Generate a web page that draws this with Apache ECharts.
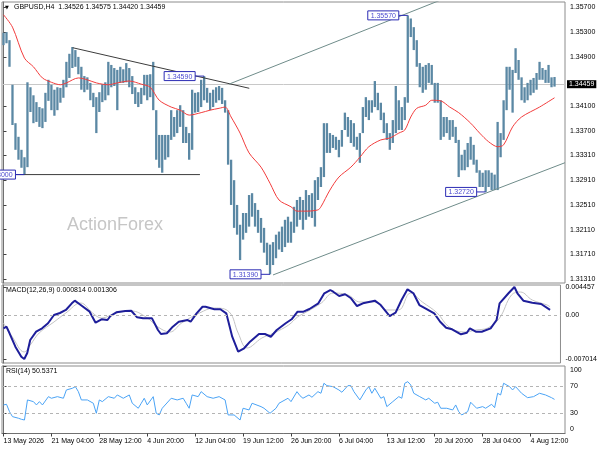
<!DOCTYPE html>
<html><head><meta charset="utf-8">
<script src="https://cdn.jsdelivr.net/npm/echarts/dist/echarts.min.js"></script>
<style>html,body{margin:0;padding:0;background:#fff}#c{width:600px;height:450px}</style>
</head><body><div id="c"></div>
<script>
const FONT = "'Liberation Sans', Arial, sans-serif";
const symbolName = 'GBPUSD,H4';
const lastOHLC = [1.34526, 1.34575, 1.34420, 1.34459];
const currentPrice = 1.34459;

// one bar every 8 hours, high / low
const barHigh = [
1.3529,1.3530,1.3517,1.3445,1.3383,1.3361,1.3340,1.3328,1.3449,1.3441,
1.3428,1.3417,1.3409,1.3407,1.3432,1.3453,1.3445,1.3437,1.3441,1.3440,
1.3453,1.3482,1.3495,1.3506,1.3501,1.3490,1.3474,1.3459,1.3457,1.3448,
1.3432,1.3425,1.3433,1.3446,1.3449,1.3482,1.3477,1.3472,1.3469,1.3474,
1.3470,1.3480,1.3472,1.3459,1.3441,1.3433,1.3440,1.3461,1.3461,1.3462,
1.3482,1.3404,1.3364,1.3364,1.3364,1.3364,1.3404,1.3393,1.3404,1.3412,
1.3404,1.3377,1.3367,1.3437,1.3432,1.3433,1.3453,1.3459,1.3440,1.3432,
1.3437,1.3441,1.3443,1.3440,1.3420,1.3404,1.3324,1.3291,1.3251,1.3219,
1.3238,1.3238,1.3267,1.3270,1.3254,1.3243,1.3230,1.3214,1.3190,1.3187,
1.3191,1.3203,1.3208,1.3216,1.3227,1.3232,1.3224,1.3248,1.3259,1.3264,
1.3259,1.3275,1.3267,1.3270,1.3291,1.3296,1.3312,1.3383,1.3383,1.3367,
1.3364,1.3361,1.3356,1.3372,1.3400,1.3393,1.3388,1.3383,1.3361,1.3367,
1.3409,1.3425,1.3420,1.3420,1.3451,1.3432,1.3416,1.3400,1.3383,1.3367,
1.3388,1.3443,1.3420,1.3409,1.3425,1.3557,1.3552,1.3538,1.3517,1.3480,
1.3474,1.3477,1.3480,1.3477,1.3448,1.3448,1.3420,1.3393,1.3393,1.3388,
1.3388,1.3377,1.3356,1.3332,1.3340,1.3351,1.3361,1.3348,1.3324,1.3307,
1.3303,1.3307,1.3307,1.3303,1.3300,1.3385,1.3367,1.3420,1.3474,1.3474,
1.3469,1.3504,1.3485,1.3457,1.3441,1.3448,1.3453,1.3456,1.3464,1.3482,
1.3472,1.3469,1.3477,1.3457,1.34575];
const barLow = [
1.3509,1.3512,1.3474,1.3380,1.3340,1.3324,1.3311,1.3300,1.3312,1.3401,
1.3383,1.3385,1.3377,1.3375,1.3385,1.3419,1.3404,1.3395,1.3404,1.3416,
1.3424,1.3441,1.3456,1.3472,1.3474,1.3462,1.3437,1.3433,1.3437,1.3420,
1.3409,1.3367,1.3401,1.3417,1.3420,1.3428,1.3441,1.3443,1.3404,1.3448,
1.3448,1.3449,1.3441,1.3430,1.3414,1.3409,1.3414,1.3428,1.3420,1.3425,
1.3404,1.3324,1.3311,1.3303,1.3324,1.3328,1.3356,1.3361,1.3367,1.3377,
1.3351,1.3351,1.3324,1.3340,1.3400,1.3401,1.3409,1.3420,1.3416,1.3404,
1.3409,1.3416,1.3420,1.3414,1.3400,1.3316,1.3251,1.3214,1.3203,1.3162,
1.3195,1.3206,1.3216,1.3232,1.3216,1.3206,1.3190,1.3174,1.3154,1.3139,
1.3154,1.3165,1.3179,1.3175,1.3183,1.3190,1.3190,1.3206,1.3216,1.3227,
1.3211,1.3227,1.3232,1.3230,1.3216,1.3259,1.3280,1.3296,1.3335,1.3335,
1.3343,1.3340,1.3328,1.3345,1.3372,1.3361,1.3351,1.3345,1.3340,1.3319,
1.3367,1.3393,1.3388,1.3400,1.3409,1.3404,1.3388,1.3367,1.3356,1.3340,
1.3351,1.3367,1.3372,1.3372,1.3388,1.3416,1.3522,1.3501,1.3474,1.3441,
1.3432,1.3437,1.3448,1.3445,1.3416,1.3416,1.3356,1.3361,1.3367,1.3356,
1.3361,1.3351,1.3296,1.3307,1.3307,1.3312,1.3324,1.3316,1.3303,1.3280,
1.3280,1.3272,1.3280,1.3275,1.3275,1.3275,1.3328,1.3356,1.3404,1.3437,
1.3400,1.3464,1.3453,1.3420,1.3416,1.3420,1.3428,1.3432,1.3437,1.3453,
1.3453,1.3448,1.3448,1.3441,1.34420];

const maIdx = [0,3,7,10,13,16,19,21,25,28,31,35,38,42,46,49,52,56,59,62,66,69,72,74,76,79,82,86,89,92,96,98,101,105,106,109,112,116,119,122,126,129,132,134,136,138,141,143,146,149,152,156,159,162,165,167,170,173,179,184];
const maVal = [1.3558,1.3538,1.3488,1.3474,1.3456,1.3449,1.3445,1.3448,1.3456,1.3453,1.3448,1.3445,1.3448,1.3451,1.3446,1.3441,1.3420,1.3409,1.3404,1.3396,1.3400,1.3404,1.3407,1.3409,1.3393,1.3367,1.3335,1.3312,1.3286,1.3259,1.3248,1.3241,1.3241,1.3243,1.3248,1.3275,1.3296,1.3312,1.3328,1.3345,1.3356,1.3359,1.3367,1.3372,1.3393,1.3407,1.3412,1.3420,1.3419,1.3409,1.3400,1.3383,1.3367,1.3353,1.3345,1.3348,1.3377,1.3393,1.3409,1.3424];

const macdIdx = [0,1,2,4,6,7,8,9,11,13,15,17,19,21,23,24,26,29,31,33,35,36,38,41,43,45,47,50,52,53,55,57,59,62,63,65,67,68,71,73,75,77,79,81,83,86,88,90,92,95,97,99,101,103,106,108,110,111,113,115,117,119,121,125,127,130,132,134,136,138,140,142,145,147,149,151,154,156,157,159,161,164,166,167,170,172,173,175,178,181,184];
const macdVal = [-0.00212,-0.00186,-0.00287,-0.00505,-0.00664,-0.007014,-0.00605,-0.00398,-0.00266,-0.00212,-0.00132,0.00000,0.00032,0.00080,0.00186,0.00228,0.00159,0.00053,-0.00123,-0.00068,-0.00080,-0.00016,0.00043,0.00064,0.00068,-0.00037,-0.00053,-0.00053,-0.00239,-0.00303,-0.00291,-0.00186,-0.00107,-0.00080,-0.00107,0.00027,0.00132,0.00132,0.00091,0.00091,0.00027,-0.00346,-0.00584,-0.00530,-0.00425,-0.00303,-0.00303,-0.00346,-0.00239,-0.00132,-0.00068,0.00053,0.00053,0.00096,0.00186,0.00346,0.00398,0.00371,0.00303,0.00330,0.00266,0.00143,0.00186,0.00228,0.00159,-0.00016,0.00037,0.00239,0.00409,0.00346,0.00159,0.00107,0.00027,-0.00107,-0.00202,-0.00228,-0.00307,-0.00282,-0.00212,-0.00266,-0.00266,-0.00212,-0.00080,0.00186,0.00346,0.004457,0.00346,0.00228,0.00196,0.00175,0.000814];
const sigIdx = [0,3,7,9,12,17,21,26,30,33,38,43,48,52,56,60,66,71,76,79,82,87,91,96,99,102,107,111,116,120,125,129,133,137,141,146,150,155,159,163,167,171,174,178,183,184];
const sigVal = [-0.00127,-0.00350,-0.00589,-0.00478,-0.00287,-0.00111,0.00032,0.00191,0.00032,-0.00048,0.00032,0.00064,-0.00032,-0.00191,-0.00271,-0.00127,0.00032,0.00111,0.00048,-0.00287,-0.00525,-0.00366,-0.00287,-0.00159,-0.00032,0.00048,0.00191,0.00350,0.00318,0.00207,0.00207,0.00080,0.00080,0.00350,0.00207,0.00032,-0.00191,-0.00271,-0.00239,-0.00207,-0.00048,0.00318,0.00366,0.00239,0.00159,0.001306];

const rsiIdx = [0,1,2,3,5,6,7,8,10,11,12,13,15,16,18,20,21,23,24,25,26,28,30,31,32,33,35,37,38,40,42,43,45,46,47,48,50,51,52,53,56,58,60,61,62,63,65,66,68,70,72,74,75,77,79,80,82,83,86,87,89,91,92,95,96,98,99,100,102,103,105,106,107,108,110,112,113,115,116,117,119,121,122,123,124,126,127,128,130,132,133,134,135,136,137,139,141,142,144,145,146,148,150,151,152,153,155,156,158,160,161,163,164,165,166,167,169,170,171,173,175,177,179,181,183,184];
const rsiVal = [42.3,43.3,32.4,25,22.6,21,20,49.7,47.2,42.3,
47.2,42.3,54.6,52.2,54.6,52.2,64.5,67,69.4,62,
49.7,49.7,44.8,30,49.7,47.2,54.6,52.2,57.1,52.2,
57.1,44.8,37.4,44.8,52.2,42.3,54.6,30,27.5,37.4,
52.2,49.7,52.2,44.8,37.4,57.1,54.6,62,54.6,52.2,
54.6,49.7,27.5,27.5,20,37.4,34.9,44.8,39.8,37.4,
30,37.4,44.8,52.2,47.2,62,56,52.2,57.1,53.7,
62,59.6,74.4,70.9,69.4,64.5,61.1,70.9,70.9,62,
49.7,64.5,69.4,59.6,67,52.2,54.6,39.8,47.2,54.6,
52.2,74.4,76.8,71.9,59.6,54.6,49.7,52.2,44.8,46.3,
37.4,37.4,34.9,42.3,32.4,27.5,32.4,46.3,37.4,39.8,
37.4,43.3,38.3,59.6,57.1,74.4,69.4,64.5,69.4,59.6,
53.1,54.6,59.6,57.1,53.1,50.5371];

// drawn objects (bar index, price)
const downTrend = [[23.1, 1.35048], [82.07, 1.34393]];
const channelTop = [[75.4, 1.34462], [150, 1.35895]];
const channelBottom = [[90.0, 1.3138], [187.5, 1.33192]];
const supportLine = [[4.2, 1.3300], [65.6, 1.3300]];
const markIdx = [7, 67, 89, 135, 161];
const markVal = [1.33, 1.3459, 1.3139, 1.3557, 1.3272];

const priceTicks = [1.357, 1.353, 1.349, 1.341, 1.337, 1.3331, 1.3291, 1.3251, 1.3211, 1.3171, 1.3131];
const macdTicks = [0.004457, 0, -0.007014];
const macdTickText = ['0.004457', '0.00', '-0.007014'];
const rsiTicks = [100, 70, 30, 0];
const rsiInnerTicks = [70, 30];
const rsiEdgeTicks = [100, 0];
const rsiLevels = [70, 30];
const timeIdx = [0,16,32,48,64,80,96,112,128,144,160,176];
const timeLabels = ['13 May 2026','21 May 04:00','28 May 12:00','4 Jun 20:00','12 Jun 04:00','19 Jun 12:00','26 Jun 20:00','6 Jul 04:00','13 Jul 12:00','20 Jul 20:00','28 Jul 04:00','4 Aug 12:00'];

const N = 188;
const RSI_TOP = 366, RSI_H = 67.5;
const zip = (a, b) => a.map((v, i) => [v, b[i]]);
const chart = echarts.init(document.getElementById('c'));
const lbl = {fontSize: 7, fontFamily: FONT, color: '#000'};
const xHidden = g => ({type: 'value', gridIndex: g, min: -0.5, max: N - 0.5, show: false});
const trend = (data, color) => ({type: 'line', xAxisIndex: 0, yAxisIndex: 0, data, showSymbol: false, symbol: 'none',
  lineStyle: {color, width: 1}, z: 4, silent: true, clip: true});

chart.setOption({
  animation: false,
  grid: [
    {left: 2, top: 2, width: 563, height: 281, show: true, borderColor: '#8c8c8c', borderWidth: 1},
    {left: 2, top: 285, width: 563, height: 78, show: true, borderColor: '#8c8c8c', borderWidth: 1},
    {left: 2, top: RSI_TOP, width: 563, height: RSI_H, show: true, borderColor: '#8c8c8c', borderWidth: 1}
  ],
  xAxis: [xHidden(0), xHidden(1), {
    type: 'value', gridIndex: 2, min: -0.5, max: N - 0.5,
    splitLine: {show: false},
    axisLine: {show: true, lineStyle: {color: '#707070'}},
    axisTick: {show: true, customValues: timeIdx, length: 3, lineStyle: {color: '#404040'}},
    axisLabel: Object.assign({customValues: timeIdx, align: 'left', margin: 4,
      formatter: v => timeLabels[timeIdx.indexOf(v)] || ''}, lbl)
  }],
  yAxis: [
    {type: 'value', gridIndex: 0, position: 'right', min: 1.3125, max: 1.35786, splitLine: {show: false},
     axisLine: {show: true, lineStyle: {color: '#707070'}},
     axisTick: {show: true, customValues: priceTicks, length: 3, lineStyle: {color: '#404040'}},
     axisLabel: Object.assign({customValues: priceTicks, margin: 5, formatter: v => v.toFixed(5)}, lbl)},
    {type: 'value', gridIndex: 1, position: 'right', min: -0.007643, max: 0.004777, splitLine: {show: false},
     axisLine: {show: true, lineStyle: {color: '#707070'}},
     axisTick: {show: true, customValues: macdTicks, length: 3, lineStyle: {color: '#404040'}},
     axisLabel: Object.assign({customValues: macdTicks, margin: 5,
       formatter: v => macdTickText[macdTicks.indexOf(v)] || ''}, lbl)},
    {type: 'value', gridIndex: 2, position: 'right', min: 0, max: 100, splitLine: {show: false},
     axisLine: {show: true, lineStyle: {color: '#707070'}},
     axisTick: {show: true, customValues: rsiTicks, length: 3, lineStyle: {color: '#404040'}},
     axisLabel: Object.assign({customValues: rsiInnerTicks, margin: 5,
       formatter: v => String(Math.round(v))}, lbl)}
  ],
  graphic: [
    {type: 'text', left: 67, top: 216, silent: true, style: {text: 'ActionForex', fontSize: 18, fontFamily: FONT, fill: '#c6c6c6'}},
    {type: 'text', left: 5, top: 5, style: {text: '▼', fontSize: 5, fontFamily: "'DejaVu Sans'", fill: '#000'}},
    {type: 'text', left: 14, top: 4, style: {text: symbolName + '  ' + lastOHLC.map(v => v.toFixed(5)).join(' '), fontSize: 7, fontFamily: FONT, fill: '#000'}},
    {type: 'text', left: 6, top: 286.5, style: {text: 'MACD(12,26,9) ' + macdVal[macdVal.length - 1].toFixed(6) + ' ' + sigVal[sigVal.length - 1].toFixed(6), fontSize: 7, fontFamily: FONT, fill: '#000'}},
    {type: 'text', left: 6, top: 368, style: {text: 'RSI(14) ' + rsiVal[rsiVal.length - 1].toFixed(4), fontSize: 7, fontFamily: FONT, fill: '#000'}},
    // edge labels of the RSI scale, kept inside the panel as the terminal draws them (own top layer)
    {type: 'text', x: 570, y: RSI_TOP + 0.5, zlevel: 5, z: 100,
     style: {text: rsiEdgeTicks[0] + '', fontSize: 7, fontFamily: FONT, fill: '#000', textVerticalAlign: 'top', verticalAlign: 'top'}},
    {type: 'text', x: 570, y: RSI_TOP + RSI_H - 0.5, zlevel: 5, z: 100,
     style: {text: rsiEdgeTicks[1] + '', fontSize: 7, fontFamily: FONT, fill: '#000', textVerticalAlign: 'bottom', verticalAlign: 'bottom'}}
  ],
  series: [
    {type: 'custom', xAxisIndex: 0, yAxisIndex: 0, z: 2, clip: true, silent: true,
     encode: {x: 0, y: [1, 2]},
     data: barHigh.map((h, i) => [i, barLow[i], h]),
     renderItem: (params, api) => {
       const top = api.coord([api.value(0), api.value(2)]);
       const bot = api.coord([api.value(0), api.value(1)]);
       return {type: 'rect', shape: {x: top[0] - 1.15, y: top[1], width: 2.3, height: Math.max(1, bot[1] - top[1])},
         style: {fill: '#5b88a4'}};
     }},
    {type: 'line', xAxisIndex: 0, yAxisIndex: 0, data: zip(maIdx, maVal), showSymbol: false, symbol: 'none', smooth: 0.3,
     lineStyle: {color: '#f23c3c', width: 1}, z: 3, silent: true,
     markLine: {symbol: 'none', silent: true, animation: false, precision: 5, z: 1,
       lineStyle: {color: '#c8c8c8', type: 'solid', width: 1},
       label: {show: true, position: 'end', distance: 2, formatter: currentPrice.toFixed(5), backgroundColor: '#000',
         color: '#fff', padding: [1, 2, 0, 2], fontSize: 7, fontFamily: FONT},
       data: [{yAxis: currentPrice}]}},
    trend(downTrend, '#3c3c3c'),
    trend(channelTop, '#6f8c8a'),
    trend(channelBottom, '#6f8c8a'),
    trend(supportLine, '#3c3c3c'),
    {type: 'custom', xAxisIndex: 0, yAxisIndex: 0, z: 5, silent: true,
     data: zip(markIdx, markVal),
     renderItem: (params, api) => {
       const p = api.coord([api.value(0), api.value(1)]);
       const stub = 9, bw = 31, bh = 9;
       const bx = p[0] - stub - bw, by = p[1] - bh / 2;
       return {type: 'group', children: [
         {type: 'line', shape: {x1: p[0] - stub, y1: p[1], x2: p[0], y2: p[1]}, style: {stroke: '#2c2cb4', lineWidth: 1}},
         {type: 'rect', shape: {x: bx, y: by, width: bw, height: bh}, style: {fill: '#fff', stroke: '#2c2cb4', lineWidth: 1}},
         {type: 'text', style: {text: api.value(1).toFixed(5), x: bx + bw / 2, y: p[1] + 0.5, fill: '#4a4ad0',
           fontSize: 7, fontFamily: FONT, align: 'center', verticalAlign: 'middle'}}
       ]};
     }},
    {type: 'line', xAxisIndex: 1, yAxisIndex: 1, data: zip(sigIdx, sigVal), showSymbol: false, symbol: 'none', smooth: 0.4,
     lineStyle: {color: '#c4c4c4', width: 1}, z: 2, silent: true,
     markLine: {symbol: 'none', silent: true, label: {show: false}, precision: 6,
       lineStyle: {color: '#b4b4b4', type: [3, 3], width: 1}, data: [{yAxis: 0}]}},
    {type: 'line', xAxisIndex: 1, yAxisIndex: 1, data: zip(macdIdx, macdVal), showSymbol: false, symbol: 'none',
     lineStyle: {color: '#1e1e9a', width: 2}, z: 3, silent: true},
    {type: 'line', xAxisIndex: 2, yAxisIndex: 2, data: zip(rsiIdx, rsiVal), showSymbol: false, symbol: 'none',
     lineStyle: {color: '#4aa3f5', width: 1}, z: 3, silent: true,
     markLine: {symbol: 'none', silent: true, label: {show: false},
       lineStyle: {color: '#b4b4b4', type: [3, 3], width: 1}, data: rsiLevels.map(v => ({yAxis: v}))}}
  ]
});
</script>
</body></html>
